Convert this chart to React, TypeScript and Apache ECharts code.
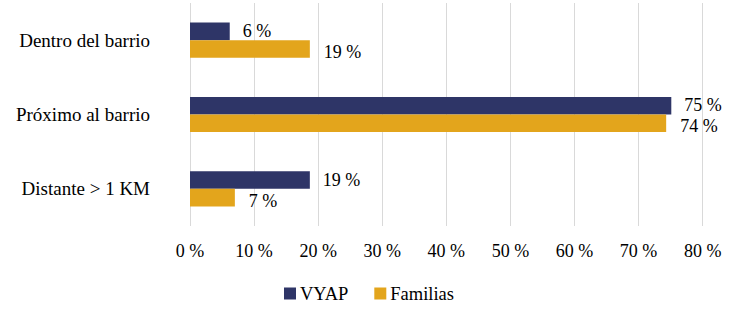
import React, { useEffect, useRef } from "react";
import * as echarts from "echarts";

const categories = ["Dentro del barrio", "Próximo al barrio", "Distante > 1 KM"];
const seriesNames = ["VYAP", "Familias"];
const vyapValues = [6.2, 75.1, 18.7];
const familiasValues = [18.7, 74.3, 7.0];
const xTicks = { min: 0, max: 80, interval: 10 };

const FONT = "Liberation Serif";

export default function App() {
  const ref = useRef<HTMLDivElement>(null);
  useEffect(() => {
    if (!ref.current) return;
    const chart = echarts.init(ref.current, undefined, { renderer: "svg" });
    const labelFmt = (p: any) => Math.round(p.value) + " %";
    chart.setOption({
      animation: false,
      grid: { left: 190, right: 35.3, top: 3, bottom: 84, containLabel: false },
      legend: {
        data: seriesNames,
        top: 279,
        left: "center",
        itemWidth: 12,
        itemHeight: 12,
        itemGap: 26,
        icon: "rect",
        textStyle: { fontFamily: FONT, fontSize: 18.5, color: "#000", padding: [0, 0, 0, -1] },
      },
      xAxis: {
        type: "value",
        min: xTicks.min,
        max: xTicks.max,
        interval: xTicks.interval,
        axisLine: { show: false },
        axisTick: { show: false },
        splitLine: { show: true, lineStyle: { color: "#D9D9D9", width: 1 } },
        axisLabel: {
          formatter: "{value} %",
          fontFamily: FONT,
          fontSize: 18,
          color: "#000",
          margin: 16,
        },
      },
      yAxis: {
        type: "category",
        data: categories,
        inverse: true,
        axisLine: { show: false },
        axisTick: { show: false },
        axisLabel: {
          fontFamily: FONT,
          fontSize: 19,
          color: "#000",
          margin: 40,
        },
      },
      series: [
        {
          name: seriesNames[0],
          type: "bar",
          data: vyapValues,
          barWidth: 17.6,
          barGap: "0%",
          itemStyle: { color: "#2E3567" },
          label: {
            show: true,
            position: "right",
            distance: 13,
            offset: [0, -0.5],
            formatter: labelFmt,
            fontFamily: FONT,
            fontSize: 18,
            color: "#000",
          },
        },
        {
          name: seriesNames[1],
          type: "bar",
          data: familiasValues,
          barWidth: 17.6,
          barGap: "0%",
          itemStyle: { color: "#E3A51C" },
          label: {
            show: true,
            position: "right",
            distance: 14,
            offset: [0, 3],
            formatter: labelFmt,
            fontFamily: FONT,
            fontSize: 18,
            color: "#000",
          },
        },
      ],
    });
    return () => chart.dispose();
  }, []);
  return <div ref={ref} style={{ width: 738, height: 310, position: "absolute", left: 0, top: 0 }} />;
}
